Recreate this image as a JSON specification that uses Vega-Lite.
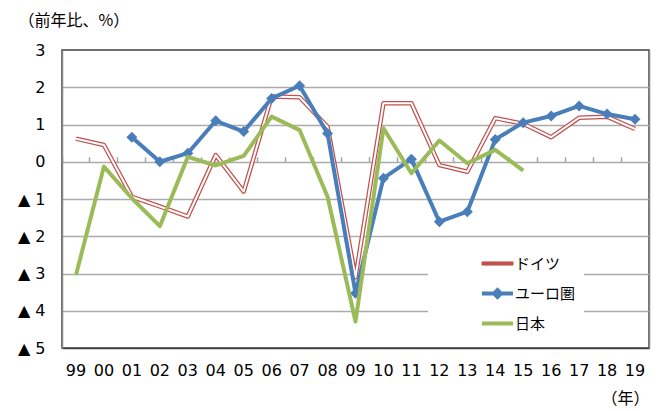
{
  "$schema": "https://vega.github.io/schema/vega-lite/v6.json",
  "width": 587,
  "height": 298,
  "autosize": "none",
  "padding": {"left": 62, "top": 50, "right": 13, "bottom": 63},
  "background": "white",
  "config": {
    "view": {"stroke": "#404040", "strokeWidth": 1.5},
    "axis": {"labelFont": "DejaVu Sans", "labelFontSize": 16, "labelColor": "#000000", "titleFont": "Noto Sans CJK JP", "titleFontSize": 16, "titleFontWeight": "normal", "titleColor": "#000000"}
  },
  "data": {
    "values": [
      {"year": "99", "series": "ドイツ", "value": 0.62},
      {"year": "00", "series": "ドイツ", "value": 0.45},
      {"year": "01", "series": "ドイツ", "value": -0.94},
      {"year": "02", "series": "ドイツ", "value": -1.2},
      {"year": "03", "series": "ドイツ", "value": -1.47},
      {"year": "04", "series": "ドイツ", "value": 0.18},
      {"year": "05", "series": "ドイツ", "value": -0.8},
      {"year": "06", "series": "ドイツ", "value": 1.75},
      {"year": "07", "series": "ドイツ", "value": 1.73},
      {"year": "08", "series": "ドイツ", "value": 0.94},
      {"year": "09", "series": "ドイツ", "value": -3.1},
      {"year": "10", "series": "ドイツ", "value": 1.57},
      {"year": "11", "series": "ドイツ", "value": 1.57},
      {"year": "12", "series": "ドイツ", "value": -0.09},
      {"year": "13", "series": "ドイツ", "value": -0.27},
      {"year": "14", "series": "ドイツ", "value": 1.17},
      {"year": "15", "series": "ドイツ", "value": 1.02},
      {"year": "16", "series": "ドイツ", "value": 0.66},
      {"year": "17", "series": "ドイツ", "value": 1.18},
      {"year": "18", "series": "ドイツ", "value": 1.21},
      {"year": "19", "series": "ドイツ", "value": 0.88},
      {"year": "01", "series": "ユーロ圏", "value": 0.66},
      {"year": "02", "series": "ユーロ圏", "value": 0.0},
      {"year": "03", "series": "ユーロ圏", "value": 0.23},
      {"year": "04", "series": "ユーロ圏", "value": 1.1},
      {"year": "05", "series": "ユーロ圏", "value": 0.81},
      {"year": "06", "series": "ユーロ圏", "value": 1.7},
      {"year": "07", "series": "ユーロ圏", "value": 2.04},
      {"year": "08", "series": "ユーロ圏", "value": 0.76},
      {"year": "09", "series": "ユーロ圏", "value": -3.53},
      {"year": "10", "series": "ユーロ圏", "value": -0.44},
      {"year": "11", "series": "ユーロ圏", "value": 0.07},
      {"year": "12", "series": "ユーロ圏", "value": -1.61},
      {"year": "13", "series": "ユーロ圏", "value": -1.34},
      {"year": "14", "series": "ユーロ圏", "value": 0.6},
      {"year": "15", "series": "ユーロ圏", "value": 1.05},
      {"year": "16", "series": "ユーロ圏", "value": 1.23},
      {"year": "17", "series": "ユーロ圏", "value": 1.5},
      {"year": "18", "series": "ユーロ圏", "value": 1.28},
      {"year": "19", "series": "ユーロ圏", "value": 1.14},
      {"year": "99", "series": "日本", "value": -3.04},
      {"year": "00", "series": "日本", "value": -0.13},
      {"year": "01", "series": "日本", "value": -0.98},
      {"year": "02", "series": "日本", "value": -1.73},
      {"year": "03", "series": "日本", "value": 0.13},
      {"year": "04", "series": "日本", "value": -0.1},
      {"year": "05", "series": "日本", "value": 0.16},
      {"year": "06", "series": "日本", "value": 1.21},
      {"year": "07", "series": "日本", "value": 0.85},
      {"year": "08", "series": "日本", "value": -0.94},
      {"year": "09", "series": "日本", "value": -4.29},
      {"year": "10", "series": "日本", "value": 0.9},
      {"year": "11", "series": "日本", "value": -0.31},
      {"year": "12", "series": "日本", "value": 0.57},
      {"year": "13", "series": "日本", "value": -0.04},
      {"year": "14", "series": "日本", "value": 0.32},
      {"year": "15", "series": "日本", "value": -0.24}
    ]
  },
  "layer": [
    {
      "transform": [{"filter": "datum.series === 'ドイツ'"}],
      "mark": {"type": "line", "strokeWidth": 4.5, "strokeJoin": "round"},
      "encoding": {
        "x": {
          "field": "year", "type": "ordinal",
          "scale": {"type": "band", "domain": ["99","00","01","02","03","04","05","06","07","08","09","10","11","12","13","14","15","16","17","18","19"], "paddingInner": 0, "paddingOuter": 0},
          "axis": {"orient": "bottom", "title": "（年）", "titleX": 587, "titleY": 50, "titleAlign": "right", "titleBaseline": "middle", "titleAngle": 0, "ticks": false, "domainColor": "#404040", "domainWidth": 1.5, "labelPadding": 14, "labelAngle": 0, "grid": false}
        },
        "y": {
          "field": "value", "type": "quantitative",
          "scale": {"domain": [-5, 3], "nice": false, "zero": false},
          "axis": {"orient": "left", "values": [-5,-4,-3,-2,-1,0,1,2,3], "grid": false, "ticks": false, "domainColor": "#868686", "domainWidth": 1.5, "labelPadding": 17, "labelBaseline": "middle", "labelExpr": "datum.value < 0 ? '▲ ' + abs(datum.value) : datum.label", "title": "（前年比、%）", "titleAngle": 0, "titleX": -44, "titleY": -30, "titleAlign": "left", "titleBaseline": "middle"}
        },
        "color": {
          "field": "series", "type": "nominal",
          "scale": {"domain": ["ドイツ", "ユーロ圏", "日本"], "range": ["#C0504D", "#4A7EBB", "#9BBB59"]},
          "legend": {
            "orient": "none", "legendX": 366, "legendY": 198, "title": null,
            "fillColor": "white", "padding": 8,
            "symbolSize": 961, "symbolOffset": 54, "labelOffset": 10, "rowPadding": 10,
            "labelFont": "Noto Sans CJK JP", "labelFontSize": 15, "labelColor": "#000000",
            "encode": {
              "symbols": {
                "update": {
                  "shape": {"signal": "datum.value === 'ドイツ' ? 'M-1,-0.1H1V0.1H-1Z' : datum.value === 'ユーロ圏' ? 'M-1,0H1M0,-0.22L0.22,0L0,0.22L-0.22,0Z' : 'M-1,0H1'"},
                  "fill": {"signal": "datum.value === 'ドイツ' ? '#ffffff' : datum.value === 'ユーロ圏' ? '#4A7EBB' : 'transparent'"},
                  "stroke": {"signal": "datum.value === 'ドイツ' ? '#C0504D' : datum.value === 'ユーロ圏' ? '#4A7EBB' : '#9BBB59'"},
                  "strokeWidth": {"signal": "datum.value === 'ドイツ' ? 1 : 4"},
                  "opacity": {"value": 1}
                }
              }
            }
          }
        }
      }
    },
    {
      "transform": [{"filter": "datum.series === 'ドイツ'"}],
      "mark": {"type": "line", "strokeWidth": 2, "stroke": "#ffffff", "strokeJoin": "round"},
      "encoding": {
        "x": {
          "field": "year", "type": "ordinal",
          "axis": {"orient": "top", "offset": -111.75, "bandPosition": 0, "labels": false, "domain": false, "ticks": true, "tickSize": 5, "tickColor": "#a6a6a6", "tickWidth": 1.5, "title": null, "grid": false}
        },
        "y": {
          "field": "value", "type": "quantitative",
          "axis": {"orient": "right", "values": [-4,-3,-2,-1,0,1,2], "grid": true, "gridColor": "#ababab", "gridWidth": 1.5, "labels": false, "ticks": false, "domainColor": "#868686", "domainWidth": 1.5, "title": null}
        }
      }
    },
    {
      "transform": [{"filter": "datum.series === 'ユーロ圏'"}],
      "mark": {"type": "line", "strokeWidth": 4, "strokeJoin": "round"},
      "encoding": {
        "x": {"field": "year", "type": "ordinal", "axis": null},
        "y": {"field": "value", "type": "quantitative", "axis": null},
        "color": {"field": "series", "type": "nominal"}
      }
    },
    {
      "transform": [{"filter": "datum.series === 'ユーロ圏'"}],
      "mark": {"type": "point", "shape": "diamond", "filled": true, "size": 121, "opacity": 1},
      "encoding": {
        "x": {"field": "year", "type": "ordinal", "axis": null},
        "y": {"field": "value", "type": "quantitative", "axis": null},
        "color": {"field": "series", "type": "nominal"}
      }
    },
    {
      "transform": [{"filter": "datum.series === '日本'"}],
      "mark": {"type": "line", "strokeWidth": 4, "strokeJoin": "round"},
      "encoding": {
        "x": {"field": "year", "type": "ordinal", "axis": null},
        "y": {"field": "value", "type": "quantitative", "axis": null},
        "color": {"field": "series", "type": "nominal"}
      }
    }
  ],
  "resolve": {"axis": {"x": "independent", "y": "independent"}}
}
